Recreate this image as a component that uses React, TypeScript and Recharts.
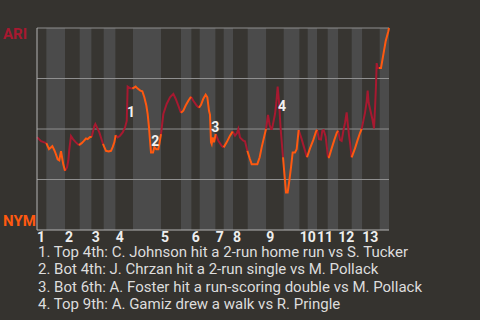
import React from 'react';
import { ComposedChart, Line, XAxis, YAxis, ReferenceArea, ReferenceLine, Scatter } from 'recharts';

// pitches (x units) per half inning: Top 1, Bot 1, Top 2, ...
const halfInningPitches = [7, 14, 11, 9, 9, 9, 13, 21, 15, 8, 6, 12, 6, 7, 11, 14, 13, 12, 6, 7, 8, 8, 10, 8, 13, 7];
const inningLabels = ['1', '2', '3', '4', '5', '6', '7', '8', '9', '10', '11', '12', '13'];

// pitch index of each play and ARI win probability (%) after it
const playIndex = [
  0, 3, 5, 7,
  8, 9, 11.5, 13, 14.2, 15.5, 16.7, 18, 19.7, 21,
  22.5, 23.5, 24.25, 25.5, 27, 29, 31.5,
  33.5, 35, 36.75, 38, 39.75, 41,
  43, 43.75, 45, 46.75, 48.75, 49.5,
  50.5, 51.75, 53.75, 55.5, 56.75, 58, 59,
  60.5, 62.25, 64.25, 66, 67.3, 68, 69.75, 71.5,
  74, 75.5, 77.5, 79, 80.5, 82, 83, 84, 84.75, 85.5, 87, 88, 89.5, 91, 91.75, 93,
  94.75, 97.25, 99.75, 102.25, 104, 106, 108,
  109.75, 111.5, 113.5, 115.5,
  117.25, 119.75, 121.5,
  123, 124.75, 126.5, 127.75, 129, 129.75, 130.5, 131, 131.75, 132.75, 134,
  136, 138.5, 140,
  142.25, 144.75, 146.75,
  148.5, 150, 151, 152.25, 154.75, 156, 157.75,
  159.5, 161, 165.25, 167, 168.5, 171.75,
  173.25, 174.5, 175.5, 176.25, 177.25, 178.5, 179.5, 180.5, 181.5, 182.75, 184.5,
  186, 186.75, 188, 189.25, 190.5, 191.75, 193.5, 194.75, 196.25,
  198.5, 200.5, 202.5,
  204.75, 207.25, 209.25, 210,
  211.5, 213, 214, 215, 216.5, 217.5, 218.25,
  219, 221, 223, 224.75, 225.75,
  227.25, 228.5, 229.75, 231, 232.25, 233, 234, 235, 236,
  238.5, 240.5, 242.25, 243.5,
  244.75, 246, 247.25, 248, 248.75, 249.75, 251.5, 252.75, 253.5, 254.25, 254.75, 255.5, 256.5,
  258, 259.75, 261.5, 263.5, 264,
];
const ariWinPct = [
  46, 44, 43.5, 43,
  41.5, 40, 41.5, 39.5, 37.5, 35, 34.5, 39, 32.5, 29.3,
  31, 34.5, 40, 46.5, 45, 43.5, 42,
  43, 44, 45.3, 45, 46, 46,
  51.5, 52.5, 50.8, 48.3, 44.2, 42.6,
  41, 39.2, 38.9, 39.2, 41, 43.4, 47,
  45.8, 46.7, 48.3, 50.8, 54, 71, 70.3, 70,
  71, 70, 69, 68.7, 65.7, 61.6, 57.4, 50.8, 44.2, 38.4, 38.4, 41, 40, 40, 42.6, 47.5,
  57.4, 62.4, 65.7, 67.4, 65, 61.6, 58,
  59.1, 61.6, 64, 66,
  64, 61.6, 60.5,
  62, 65, 67, 65.7, 59, 57, 43.4, 42.6, 45.8, 43.4, 47.5,
  44.2, 41.7, 40.9,
  43.4, 46.7, 48.8,
  46.7, 48, 50, 45.8, 44.2, 43.9, 39.2,
  35.5, 32.6, 32.6, 36, 40.9, 50,
  57, 52, 50, 50, 53.3, 57.4, 63, 71, 63.5, 50, 36,
  24.4, 18.6, 18.6, 24.4, 31, 38.4, 38.4, 40, 49.5,
  45, 40.4, 36,
  40.4, 44.6, 48.7, 49.6,
  45, 44.8, 49.2, 49.5, 46.2, 40.4, 36,
  36, 40.4, 44.6, 48, 49.2,
  44.6, 44.1, 49, 53, 58.2, 53, 47, 42, 36,
  40.4, 44.6, 48, 50,
  54, 58, 63.6, 69, 63, 60, 55, 50.3, 60, 71.5, 82.6, 80.2, 80.2,
  80.2, 86.8, 93.4, 98.4, 100,
];

// key-event annotations (label placement in chart units)
const eventNumbers = ['1', '2', '3', '4'];
const eventX = [70.5, 88.7, 133.7, 183.75];
const eventY = [58.2, 43.9, 50.8, 61.2];
const eventTexts = [
  '1. Top 4th: C. Johnson hit a 2-run home run vs S. Tucker',
  '2. Bot 4th: J. Chrzan hit a 2-run single vs M. Pollack',
  '3. Bot 6th: A. Foster hit a run-scoring double vs M. Pollack',
  '4. Top 9th: A. Gamiz drew a walk vs R. Pringle',
];
const gridValues = [25, 50, 75, 100];

const BG = '#35332f';
const DARK_BAND = '#373531';
const LIGHT_BAND = '#4b4b4b';
const RED = '#a71930';
const ORANGE = '#ff5910';
const FONT = 'Roboto, sans-serif';

const halfStarts: number[] = [];
{
  let acc = 0;
  for (const p of halfInningPitches) {
    halfStarts.push(acc);
    acc += p;
  }
}
const totalPitches = halfInningPitches.reduce((a, b) => a + b, 0);
const halves = halfInningPitches.map((p, i) => ({
  start: halfStarts[i],
  end: halfStarts[i] + p,
  isTop: i % 2 === 0,
}));
const inningStarts = halves.filter((h) => h.isTop).map((h) => h.start);

const halfOf = (x: number) => {
  let idx = 0;
  for (let i = 0; i < halfStarts.length; i++) if (halfStarts[i] <= x) idx = i;
  return idx;
};
const segTeam = (i: number) => (halfOf((playIndex[i] + playIndex[i + 1]) / 2) % 2 === 0 ? 'top' : 'bot');

const rows = playIndex.map((x, i) => {
  const left = i > 0 ? segTeam(i - 1) : null;
  const right = i < playIndex.length - 1 ? segTeam(i) : null;
  const v = ariWinPct[i];
  return {
    x,
    top: left === 'top' || right === 'top' ? v : null,
    bot: left === 'bot' || right === 'bot' ? v : null,
  };
});

const annotations = eventNumbers.map((n, i) => ({ x: eventX[i], y: eventY[i], label: n }));

const XTick = (props: any) => {
  const { x, y, payload } = props;
  const idx = inningStarts.indexOf(payload.value);
  return (
    <text x={x} y={y + 11.5} textAnchor="start" fill="#eeeeee" fontFamily={FONT} fontWeight="bold" fontSize={14}>
      {idx >= 0 ? inningLabels[idx] : ''}
    </text>
  );
};

const YTick = (props: any) => {
  const { y, payload } = props;
  const isAri = payload.value === 100;
  return (
    <text
      x={3}
      y={isAri ? y + 11 : y - 4}
      textAnchor="start"
      fill={isAri ? RED : ORANGE}
      fontFamily={FONT}
      fontWeight="bold"
      fontSize={15}
    >
      {isAri ? 'ARI' : 'NYM'}
    </text>
  );
};

const EventLabel = (props: any) => {
  const { cx, cy, payload } = props;
  return (
    <text x={cx} y={cy} textAnchor="middle" dominantBaseline="central" fill="#f2f2f2" fontFamily={FONT} fontWeight="bold" fontSize={14}>
      {payload.label}
    </text>
  );
};

export default function App() {
  return (
    <div style={{ position: 'absolute', left: 0, top: 0, width: 480, height: 320, background: BG, fontFamily: FONT, overflow: 'hidden' }}>
      <ComposedChart width={480} height={320} data={rows} margin={{ top: 28, right: 91, bottom: 70, left: 0 }}>
        {halves.map((h, i) => (
          <ReferenceArea
            key={`band-${i}`}
            x1={h.start}
            x2={h.end}
            y1={0}
            y2={100}
            fill={h.isTop ? DARK_BAND : LIGHT_BAND}
            fillOpacity={1}
            stroke="none"
          />
        ))}
        {gridValues.map((v) => (
          <ReferenceLine key={`g-${v}`} y={v} stroke="#8f8f8f" strokeWidth={1} />
        ))}
        <XAxis
          dataKey="x"
          type="number"
          domain={[0, totalPitches]}
          ticks={inningStarts}
          interval={0}
          tick={<XTick />}
          tickLine={false}
          tickSize={0}
          tickMargin={0}
          axisLine={{ stroke: '#b4b4b4' }}
          height={20}
        />
        <YAxis
          type="number"
          domain={[0, 100]}
          ticks={[0, 100]}
          interval={0}
          width={37}
          tick={<YTick />}
          tickLine={false}
          axisLine={{ stroke: '#b4b4b4' }}
        />
        <Line type="linear" dataKey="top" stroke={RED} strokeWidth={2} dot={false} activeDot={false} connectNulls={false} isAnimationActive={false} />
        <Line type="linear" dataKey="bot" stroke={ORANGE} strokeWidth={2} dot={false} activeDot={false} connectNulls={false} isAnimationActive={false} />
        <Scatter data={annotations} dataKey="y" shape={<EventLabel />} isAnimationActive={false} />
      </ComposedChart>
      <div style={{ position: 'absolute', left: 38, top: 243.9, fontSize: 15, lineHeight: '17.4px', color: '#dddddd', whiteSpace: 'nowrap' }}>
        {eventTexts.map((t, i) => (
          <div key={i}>{t}</div>
        ))}
      </div>
    </div>
  );
}
